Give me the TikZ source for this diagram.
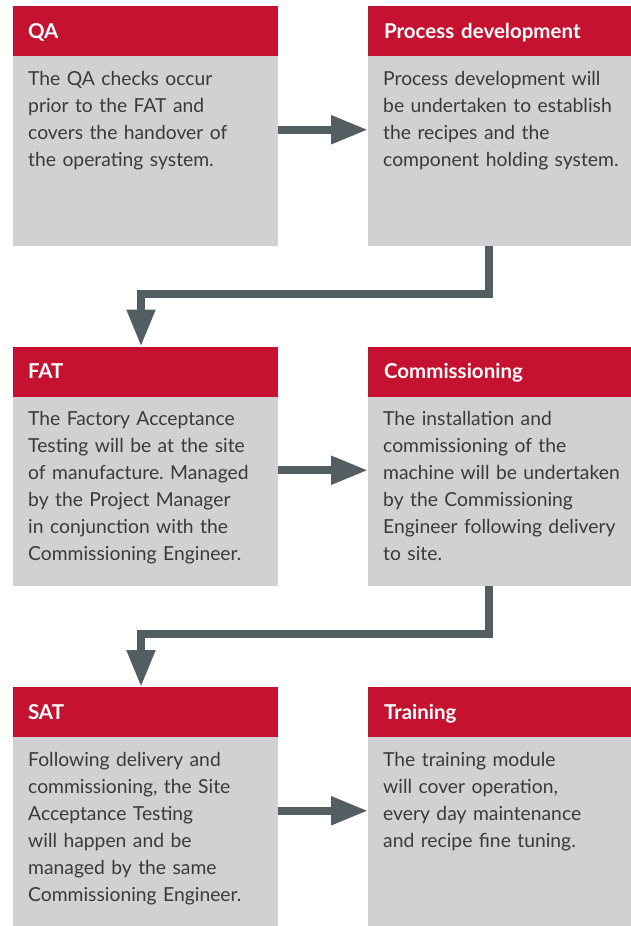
\documentclass[tikz,border=0pt]{standalone}
\usepackage{fontspec}
\setmainfont{Lato}
\usetikzlibrary{positioning, arrows.meta}

\definecolor{stepred}{HTML}{C41230}
\definecolor{stepgrey}{HTML}{D1D1D3}
\definecolor{flowgrey}{HTML}{535E62}
\definecolor{bodytext}{HTML}{3A3A3A}

\begin{document}
\frenchspacing
\begin{tikzpicture}[x=1pt, y=-1pt,
  hdr/.style={anchor=north west, fill=stepred, text=white,
    font=\bfseries\fontsize{20.5}{24}\selectfont,
    minimum width=265pt, minimum height=50pt, inner sep=0pt, outer sep=0pt,
    text width=235pt, align=left, text height=14pt, text depth=0pt},
  card/.style={fill=stepgrey, minimum width=265pt, minimum height=189.5pt,
    inner sep=0pt, outer sep=0pt},
  txt/.style={anchor=base west, text=bodytext,
    font=\fontsize{19.3}{27}\selectfont,
    text width=260pt, align=left, inner sep=0pt},
  flow/.style={draw=flowgrey, line width=8pt,
    -{Triangle[length=37pt, width=27pt]}}]
\useasboundingbox (0,0) rectangle (631,926);

% row 1
\node[hdr] (qa) at (13,6) {QA};
\node[card, below=0pt of qa] (qab) {};
\node[txt] (qat) at ([xshift=15pt,yshift=-29pt]qab.north west)
  {The QA checks occur\\ prior to the FAT and\\ covers the handover of\\ the operating system.};

\node[hdr, minimum width=263pt, text width=231pt] (pd) at (368,6) {Process development};
\node[card, minimum width=263pt, below=0pt of pd] (pdb) {};
\node[txt] (pdt) at ([xshift=15pt,yshift=-29pt]pdb.north west)
  {Process development will\\ be undertaken to establish\\ the recipes and the\\ component holding system.};

% row 2
\node[hdr] (fat) at (13,346.5) {FAT};
\node[card, below=0pt of fat] (fatb) {};
\node[txt] (fatt) at ([xshift=15pt,yshift=-29pt]fatb.north west)
  {The Factory Acceptance\\ Testing will be at the site\\ of manufacture. Managed\\ by the Project Manager\\ in conjunction with the\\ Commissioning Engineer.};

\node[hdr, minimum width=263pt, text width=231pt] (cm) at (368,346.5) {Commissioning};
\node[card, minimum width=263pt, below=0pt of cm] (cmb) {};
\node[txt] (cmt) at ([xshift=15pt,yshift=-29pt]cmb.north west)
  {The installation and\\ commissioning of the\\ machine will be undertaken\\ by the Commissioning\\ Engineer following delivery\\ to site.};

% row 3
\node[hdr] (sat) at (13,687) {SAT};
\node[card, below=0pt of sat] (satb) {};
\node[txt] (satt) at ([xshift=15pt,yshift=-29pt]satb.north west)
  {Following delivery and\\ commissioning, the Site\\ Acceptance Testing\\ will happen and be\\ managed by the same\\ Commissioning Engineer.};

\node[hdr, minimum width=263pt, text width=231pt] (tr) at (368,687) {Training};
\node[card, minimum width=263pt, below=0pt of tr] (trb) {};
\node[txt] (trt) at ([xshift=15pt,yshift=-29pt]trb.north west)
  {The training module\\ will cover operation,\\ every day maintenance\\ and recipe fine tuning.};

% arrows
\coordinate (bend1) at (315,293.5);
\coordinate (bend2) at (315,634);

\draw[flow] ([yshift=21pt]qab.east) -- ([yshift=21pt]pdb.west);
\draw[flow] ([xshift=-10.5pt]pdb.south) |- (bend1) -| ([xshift=-4.5pt]fat.north);
\draw[flow] ([yshift=21pt]fatb.east) -- ([yshift=21pt]cmb.west);
\draw[flow] ([xshift=-10.5pt]cmb.south) |- (bend2) -| ([xshift=-4.5pt]sat.north);
\draw[flow] ([yshift=21pt]satb.east) -- ([yshift=21pt]trb.west);
\end{tikzpicture}
\end{document}
